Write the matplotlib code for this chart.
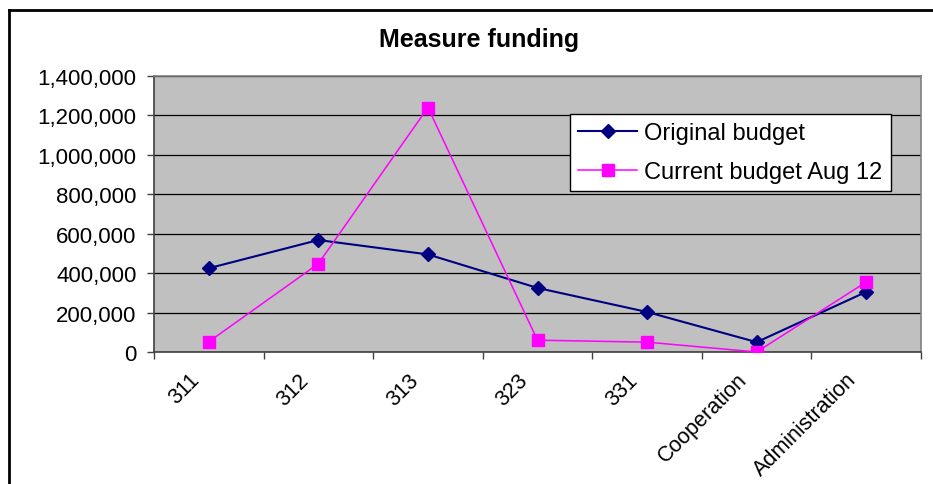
import matplotlib
matplotlib.use("Agg")
import matplotlib.pyplot as plt
from matplotlib.lines import Line2D
from matplotlib.ticker import FuncFormatter, MultipleLocator
import numpy as np

categories = ["311", "312", "313", "323", "331", "Cooperation", "Administration"]
original_budget = [425000, 568000, 495000, 325000, 203000, 50000, 305000]
current_budget = [52000, 448000, 1240000, 60000, 50000, 0, 355000]
series_names = ["Original budget", "Current budget Aug 12"]

plt.rcParams['font.family'] = ['Liberation Sans', 'DejaVu Sans']

W, H = 933, 485
fig = plt.figure(figsize=(W/100, H/100), dpi=100)
L, R, T, B = 154, 921, 77, 353
ax = fig.add_axes([L/W, 1-B/H, (R-L)/W, (B-T)/H])
ax.set_facecolor('#C0C0C0')

x = np.arange(len(categories))
ax.plot(x, original_budget, color='#000080', lw=1.5, marker='D', ms=7, label=series_names[0], zorder=3)
ax.plot(x, current_budget, color='#FF00FF', lw=1.1, marker='s', ms=9, label=series_names[1], zorder=3)

ax.set_xlim(-0.5, len(categories)-0.5)
ax.set_ylim(0, 1400000)
ax.yaxis.set_major_locator(MultipleLocator(200000))
ax.yaxis.set_major_formatter(FuncFormatter(lambda v, p: f"{int(v):,}"))
ax.grid(axis='y', color='black', lw=0.9)
ax.set_axisbelow(True)

ax.set_xticks(np.arange(len(categories)+1)-0.5)
ax.set_xticklabels([])
ax.tick_params(axis='x', which='major', length=5, width=1, color='#404040', direction='out')
ax.tick_params(axis='y', length=5, width=1, color='#404040', direction='out', labelsize=16, pad=7.5)

for i, c in enumerate(categories):
    ax.annotate(c, xy=(i, 0), xycoords=('data', 'axes fraction'),
                xytext=(-20, -17), textcoords='offset pixels',
                rotation=45, ha='right', va='top', rotation_mode='anchor',
                fontsize=15.5, annotation_clip=False)

for s in ['top', 'right']:
    ax.spines[s].set_color('#808080')
    ax.spines[s].set_linewidth(1.2)
for s in ['left', 'bottom']:
    ax.spines[s].set_color('#404040')
    ax.spines[s].set_linewidth(1.2)

leg = ax.legend(loc='upper left', bbox_to_anchor=((570-L)/(R-L), (B-115)/(B-T)),
                fontsize=17, frameon=True, fancybox=False, framealpha=1,
                edgecolor='black', borderpad=0.35, labelspacing=0.7,
                handlelength=2.5, handletextpad=0.3, borderaxespad=0)
leg.get_frame().set_linewidth(1.0)

fig.text(479/W, 1-40/H, "Measure funding", ha='center', va='center', fontsize=18, fontweight='bold')

# chart border (top and left visible)
fig.add_artist(Line2D([9/W, 1.0], [1-10.5/H, 1-10.5/H], color='black', lw=2.0, transform=fig.transFigure))
fig.add_artist(Line2D([9/W, 9/W], [0, 1-10.5/H], color='black', lw=2.0, transform=fig.transFigure))

fig.savefig("out.png", dpi=100)
